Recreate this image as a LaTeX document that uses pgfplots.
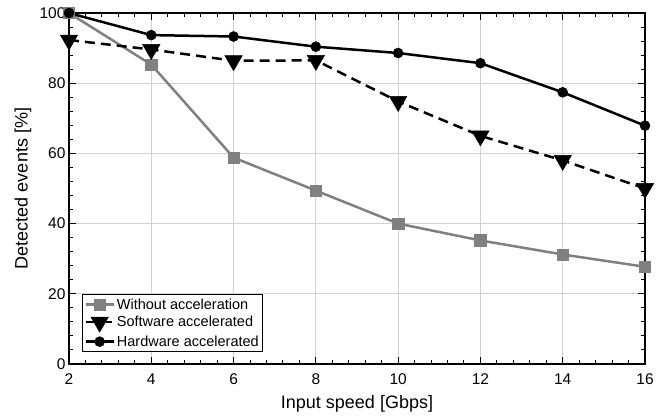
\documentclass[border=0pt]{standalone}
\usepackage{fontspec}
\setmainfont{Liberation Sans}
\usepackage{pgfplots}
\pgfplotsset{compat=1.18}
\definecolor{grayline}{RGB}{128,128,128}
\begin{document}
\begin{tikzpicture}
\begin{axis}[
    scale only axis,
    width=576pt,
    height=351pt,
    xmin=2, xmax=16,
    ymin=0, ymax=100,
    xtick={2,4,...,16},
    ytick={0,20,...,100},
    minor x tick num=4,
    minor y tick num=4,
    tick align=inside,
    major tick length=7pt,
    minor tick length=4pt,
    tick style={black, line width=1pt},
    axis line style={line width=1.2pt},
    grid=major,
    major grid style={line width=1pt, draw=gray!35},
    xlabel={Input speed [Gbps]},
    ylabel={Detected events [\%]},
    xlabel style={at={(axis description cs:0.5,-0.114)}, anchor=center},
    ylabel style={at={(axis description cs:-0.0799,0.5)}, anchor=center},
    xticklabel style={yshift=-6pt},
    /pgf/number format/assume math mode=true,
    tick label style={font=\fontsize{15.5}{17}\selectfont},
    label style={font=\fontsize{18}{20}\selectfont},
    legend style={
        at={(0.0226,0.034)},
        anchor=south west,
        font=\fontsize{14.5}{16}\selectfont,
        draw=black,
        line width=0.8pt,
        cells={anchor=west},
        row sep=1.5pt,
        inner sep=2pt,
    },
    legend image code/.code={
        \draw[mark repeat=2, mark phase=2, #1]
            plot coordinates {(0pt,0pt) (14pt,0pt) (28pt,0pt)};
    },
    legend image post style={line width=2.5pt},
]
\addplot[color=grayline, line width=2.5pt, mark=square*, mark size=5.7pt, mark options={solid, fill=grayline, draw=grayline, line width=0.5pt}]
    coordinates {
        (2,100) (4,85.3) (6,58.8) (8,49.4) (10,40.0) (12,35.2) (14,31.2) (16,27.7)
    };
\addlegendentry{Without acceleration}
\addplot[color=black, line width=2.5pt, dash pattern=on 10pt off 6pt, mark=triangle*, mark size=10pt, mark options={solid, rotate=180, fill=black, line width=0.5pt}]
    coordinates {
        (2,92.3) (4,89.6) (6,86.4) (8,86.5) (10,74.8) (12,65.0) (14,58.0) (16,50.0)
    };
\addlegendentry{Software accelerated}
\addplot[color=black, line width=2.5pt, mark=*, mark size=5pt, mark options={solid, fill=black, line width=0.5pt}]
    coordinates {
        (2,100) (4,93.7) (6,93.3) (8,90.4) (10,88.6) (12,85.7) (14,77.4) (16,67.9)
    };
\addlegendentry{Hardware accelerated}
\end{axis}
\pgfresetboundingbox
\path ([shift={(-69pt,-55pt)}]current axis.south west)
    rectangle ([shift={(19pt,13pt)}]current axis.north east);
\end{tikzpicture}
\end{document}
